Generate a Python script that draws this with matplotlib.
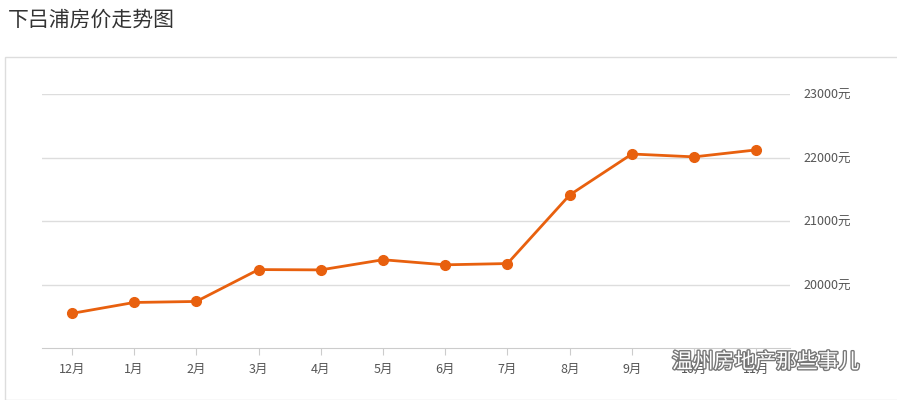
import matplotlib.pyplot as plt
import matplotlib.patheffects as pe
from matplotlib.patches import Rectangle

plt.rcParams['font.family'] = ['Noto Sans CJK SC', 'DejaVu Sans']

months = ['12月', '1月', '2月', '3月', '4月', '5月', '6月', '7月', '8月', '9月', '10月', '11月']
prices = [19545, 19717, 19733, 20235, 20230, 20390, 20310, 20330, 21410, 22055, 22010, 22120]
yticks = [20000, 21000, 22000, 23000]

W, H = 897, 400
fig = plt.figure(figsize=(W/100, H/100), dpi=100)
fig.text(8/W, 1-20/H, '下吕浦房价走势图', fontsize=15, color='#333333', va='center', ha='left')
fig.patches.append(Rectangle((5/W, 0), 1, 1-57/H, transform=fig.transFigure,
                             fill=False, edgecolor='#dddddd', linewidth=1))

ax = fig.add_axes([42/W, 1-348/H, (790-42)/W, (348-94)/H])
x = list(range(len(months)))
ax.plot(x, prices, color='#e8600e', linewidth=2, marker='o', markersize=7, zorder=3)
ax.set_ylim(19000, 23000)
ax.set_xlim(-0.48, 11.54)
ax.set_yticks(yticks)
ax.set_yticklabels([f'{v}元' for v in yticks])
ax.yaxis.tick_right()
ax.set_xticks(x)
ax.set_xticklabels(months)
ax.tick_params(axis='both', labelsize=9, colors='#555555', length=0)
ax.tick_params(axis='x', length=5, color='#cccccc', pad=6)
ax.tick_params(axis='y', pad=10)
ax.grid(axis='y', color='#dddddd', linewidth=1)
for s in ['top', 'left', 'right']:
    ax.spines[s].set_visible(False)
ax.spines['bottom'].set_color('#cccccc')

fig.text(672/W, 1-362/H, '温州房地产那些事儿', fontsize=15, color='white', va='center',
         path_effects=[pe.withStroke(linewidth=2, foreground='#777777')])
fig.savefig('out.png', dpi=100)
